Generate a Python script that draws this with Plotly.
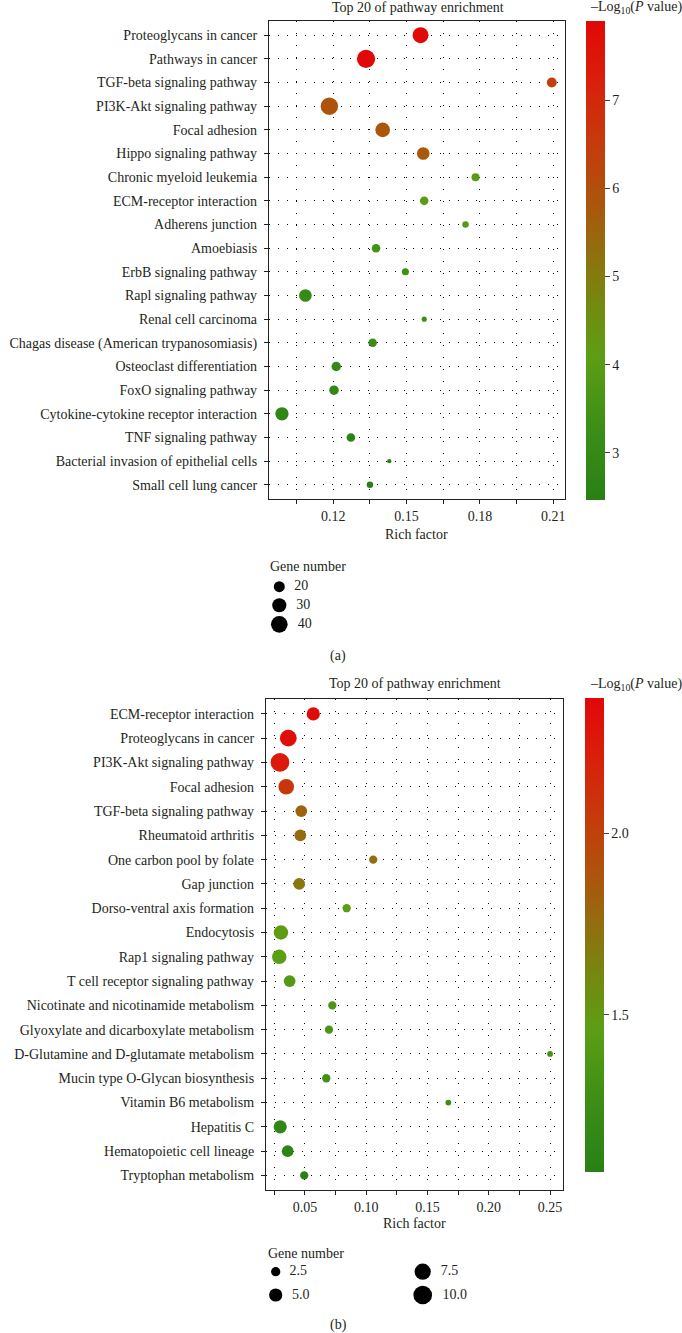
import numpy as np
import plotly.graph_objects as go

# ---------------- data: panel (a) ----------------
pathways_a = [
    "Proteoglycans in cancer", "Pathways in cancer", "TGF-beta signaling pathway",
    "PI3K-Akt signaling pathway", "Focal adhesion", "Hippo signaling pathway",
    "Chronic myeloid leukemia", "ECM-receptor interaction", "Adherens junction",
    "Amoebiasis", "ErbB signaling pathway", "Rapl signaling pathway",
    "Renal cell carcinoma", "Chagas disease (American trypanosomiasis)",
    "Osteoclast differentiation", "FoxO signaling pathway",
    "Cytokine-cytokine receptor interaction", "TNF signaling pathway",
    "Bacterial invasion of epithelial cells", "Small cell lung cancer",
]
rich_a = [0.1557, 0.1334, 0.2094, 0.1184, 0.1402, 0.1568, 0.1782, 0.1572, 0.1741,
          0.1375, 0.1495, 0.1086, 0.1572, 0.1361, 0.1212, 0.1203, 0.0990, 0.1272,
          0.1429, 0.1350]
genes_a = [37, 47, 17, 43, 32, 25, 13, 14, 10, 14, 11, 25, 8, 14, 16, 16, 27, 14, 7, 10]
logp_a = [7.80, 7.88, 6.40, 5.90, 5.80, 5.75, 4.00, 4.05, 3.90, 3.50, 3.40, 3.05,
          3.30, 3.15, 3.00, 2.90, 2.75, 2.65, 2.55, 2.50]
xtick_vals_a = [0.105, 0.12, 0.135, 0.15, 0.165, 0.18, 0.195, 0.21]
xtick_text_a = ["", "0.12", "", "0.15", "", "0.18", "", "0.21"]
cbar_ticks_a = [3, 4, 5, 6, 7]
legend_genes_a = [20, 30, 40]

# ---------------- data: panel (b) ----------------
pathways_b = [
    "ECM-receptor interaction", "Proteoglycans in cancer", "PI3K-Akt signaling pathway",
    "Focal adhesion", "TGF-beta signaling pathway", "Rheumatoid arthritis",
    "One carbon pool by folate", "Gap junction", "Dorso-ventral axis formation",
    "Endocytosis", "Rap1 signaling pathway", "T cell receptor signaling pathway",
    "Nicotinate and nicotinamide metabolism", "Glyoxylate and dicarboxylate metabolism",
    "D-Glutamine and D-glutamate metabolism", "Mucin type O-Glycan biosynthesis",
    "Vitamin B6 metabolism", "Hepatitis C", "Hematopoietic cell lineage",
    "Tryptophan metabolism",
]
rich_b = [0.0568, 0.0364, 0.0296, 0.0347, 0.0470, 0.0462, 0.1057, 0.0453, 0.0840,
          0.0304, 0.0290, 0.0375, 0.0723, 0.0696, 0.2500, 0.0674, 0.1670, 0.0298,
          0.0359, 0.0494]
genes_b = [5, 8, 10, 7, 4, 4, 2, 4, 2, 6, 6, 4, 2, 2, 1, 2, 1, 5, 4, 2]
logp_b = [2.36, 2.33, 2.25, 2.07, 1.80, 1.76, 1.74, 1.70, 1.45, 1.47, 1.45, 1.40,
          1.36, 1.35, 1.33, 1.30, 1.25, 1.15, 1.12, 1.08]
xtick_vals_b = [0.025, 0.05, 0.075, 0.10, 0.125, 0.15, 0.175, 0.20, 0.225, 0.25]
xtick_text_b = ["", "0.05", "", "0.10", "", "0.15", "", "0.20", "", "0.25"]
cbar_ticks_b = [1.5, 2.0]
cbar_text_b = ["1.5", "2.0"]
legend_genes_b = [2.5, 5.0, 7.5, 10.0]
legend_text_b = ["2.5", "5.0", "7.5", "10.0"]

# ---------------- styling ----------------
W, H = 682, 1333
FONT = "Liberation Serif"
TXT = "#231f20"
FS = 14
colorscale = [
    [0.0, "rgb(40,128,22)"], [0.15, "rgb(60,142,22)"], [0.30, "rgb(92,158,20)"],
    [0.42, "rgb(118,135,16)"], [0.50, "rgb(140,115,15)"], [0.62, "rgb(172,85,12)"],
    [0.75, "rgb(198,58,12)"], [0.88, "rgb(218,30,10)"], [1.0, "rgb(225,8,8)"],
]


def size_a(n):
    n = np.asarray(n, dtype=float)
    return [float(v) for v in np.sqrt(np.maximum(-37 + 7.9 * n, 9))]


def size_b(n):
    n = np.asarray(n, dtype=float)
    return [float(v) for v in np.sqrt(np.maximum(-2 + 35.2 * n, 9))]


def px_x(p):
    return p / W


def px_y(p):
    return 1 - p / H


fig = go.Figure()

fig.add_trace(go.Scatter(
    x=rich_a, y=pathways_a, mode="markers", xaxis="x", yaxis="y",
    marker=dict(size=size_a(genes_a), color=logp_a, coloraxis="coloraxis",
                line=dict(width=0), opacity=1),
    showlegend=False, hoverinfo="skip",
))
fig.add_trace(go.Scatter(
    x=rich_b, y=pathways_b, mode="markers", xaxis="x2", yaxis="y2",
    marker=dict(size=size_b(genes_b), color=logp_b, coloraxis="coloraxis2",
                line=dict(width=0), opacity=1),
    showlegend=False, hoverinfo="skip",
))

# size legends on a pixel overlay axis
leg_a_x = [279.3] * 3
leg_a_y = [586.7, 605.3, 624.3]
fig.add_trace(go.Scatter(
    x=leg_a_x, y=leg_a_y, mode="markers+text", xaxis="x3", yaxis="y3",
    marker=dict(size=size_a(legend_genes_a), color="#000000", opacity=1,
                line=dict(width=0)),
    text=["  " + str(g) for g in legend_genes_a], textposition="middle right",
    textfont=dict(family=FONT, size=FS, color=TXT),
    showlegend=False, hoverinfo="skip", cliponaxis=False,
))
leg_b_x = [275.7, 275.7, 422.7, 422.7]
leg_b_y = [1271.7, 1295.0, 1271.7, 1295.0]
fig.add_trace(go.Scatter(
    x=leg_b_x, y=leg_b_y, mode="markers+text", xaxis="x3", yaxis="y3",
    marker=dict(size=size_b(legend_genes_b), color="#000000", opacity=1,
                line=dict(width=0)),
    text=["  " + t for t in legend_text_b], textposition="middle right",
    textfont=dict(family=FONT, size=FS, color=TXT),
    showlegend=False, hoverinfo="skip", cliponaxis=False,
))

axis_common = dict(
    showline=True, mirror=True, linecolor="#222222", linewidth=1.2,
    ticks="outside", ticklen=4, tickcolor="#222222", tickwidth=1.2,
    showgrid=True, gridcolor="#000000", gridwidth=1.2,
    zeroline=False, tickfont=dict(family=FONT, size=FS, color=TXT),
)

cat_a = pathways_a[::-1]
cat_b = pathways_b[::-1]

fig.update_layout(
    width=W, height=H,
    margin=dict(l=0, r=0, t=0, b=0),
    paper_bgcolor="white", plot_bgcolor="rgba(0,0,0,0)",
    font=dict(family=FONT, size=FS, color=TXT),
    xaxis=dict(domain=[px_x(269), px_x(565)], range=[0.0937, 0.2148], anchor="y",
               tickmode="array", tickvals=xtick_vals_a, ticktext=xtick_text_a,
               griddash="1px,11px", **axis_common),
    yaxis=dict(domain=[px_y(499), px_y(21)], anchor="x", type="category",
               categoryorder="array", categoryarray=cat_a, range=[-0.6, 19.6],
               griddash="1px,8px", ticklabelstandoff=4, **axis_common),
    xaxis2=dict(domain=[px_x(266), px_x(563.3)], range=[0.0182, 0.2608], anchor="y2",
                tickmode="array", tickvals=xtick_vals_b, ticktext=xtick_text_b,
                griddash="1px,11px", **axis_common),
    yaxis2=dict(domain=[px_y(1190), px_y(699.3)], anchor="x2", type="category",
                categoryorder="array", categoryarray=cat_b, range=[-0.6, 19.6],
                griddash="1px,8px", ticklabelstandoff=4, **axis_common),
    xaxis3=dict(domain=[0, 1], range=[0, W], visible=False, fixedrange=True,
                anchor="y3"),
    yaxis3=dict(domain=[0, 1], range=[H, 0], visible=False, fixedrange=True,
                anchor="x3"),
    coloraxis=dict(
        colorscale=colorscale, cmin=2.47, cmax=7.90,
        colorbar=dict(
            x=px_x(585.7), xanchor="left", y=px_y(20.7), yanchor="top",
            len=(500 - 20.7) / H, lenmode="fraction", thickness=19.3,
            thicknessmode="pixels", outlinewidth=0, xpad=0, ypad=0,
            tickmode="array", tickvals=cbar_ticks_a, ticks="outside", ticklen=5,
            tickcolor="#444444", tickfont=dict(family=FONT, size=FS, color=TXT),
        ),
    ),
    coloraxis2=dict(
        colorscale=colorscale, cmin=1.066, cmax=2.372,
        colorbar=dict(
            x=px_x(585.0), xanchor="left", y=px_y(698.3), yanchor="top",
            len=(1172.7 - 698.3) / H, lenmode="fraction", thickness=19.3,
            thicknessmode="pixels", outlinewidth=0, xpad=0, ypad=0,
            tickmode="array", tickvals=cbar_ticks_b, ticktext=cbar_text_b,
            ticks="outside", ticklen=5, tickcolor="#444444",
            tickfont=dict(family=FONT, size=FS, color=TXT),
        ),
    ),
)

annotations = [
    # panel (a)
    dict(text="Top 20 of pathway enrichment", x=px_x(418), y=px_y(8)),
    dict(text="–Log<sub>10</sub>(<i>P</i> value)", x=px_x(588), y=px_y(8), xanchor="left"),
    dict(text="Rich factor", x=px_x(416.7), y=px_y(534)),
    dict(text="Gene number", x=px_x(268), y=px_y(566), xanchor="left"),
    dict(text="(a)", x=px_x(338), y=px_y(656)),
    # panel (b)
    dict(text="Top 20 of pathway enrichment", x=px_x(415), y=px_y(683.5)),
    dict(text="–Log<sub>10</sub>(<i>P</i> value)", x=px_x(588), y=px_y(684.5), xanchor="left"),
    dict(text="Rich factor", x=px_x(414.7), y=px_y(1223.3)),
    dict(text="Gene number", x=px_x(266), y=px_y(1253.3), xanchor="left"),
    dict(text="(b)", x=px_x(338), y=px_y(1325)),
]
for a in annotations:
    a.setdefault("xanchor", "center")
    a.update(xref="paper", yref="paper", yanchor="middle", showarrow=False,
             font=dict(family=FONT, size=FS, color=TXT))
fig.update_layout(annotations=annotations)

fig.write_html(
    "out.html",
    config={"displayModeBar": False},
    post_script="document.body.style.margin='0';document.body.style.overflow='hidden';",
)
